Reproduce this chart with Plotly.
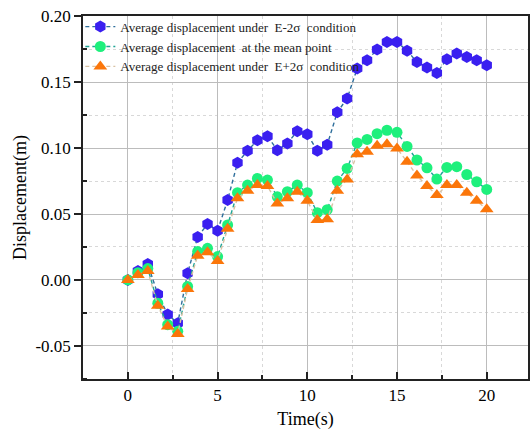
import plotly.graph_objects as go

time_s = [0.00, 0.56, 1.11, 1.67, 2.22, 2.78, 3.33, 3.89, 4.44, 5.00,
          5.56, 6.11, 6.67, 7.22, 7.78, 8.33, 8.89, 9.44, 10.00, 10.56,
          11.11, 11.67, 12.22, 12.78, 13.33, 13.89, 14.44, 15.00, 15.56, 16.11,
          16.67, 17.22, 17.78, 18.33, 18.89, 19.44, 20.00]

disp_minus = [0.000, 0.0068, 0.012, -0.0109, -0.0263, -0.0328, 0.0051, 0.0326, 0.0424, 0.0374,
              0.0606, 0.0889, 0.098, 0.106, 0.109, 0.0985, 0.1035, 0.1129, 0.1106, 0.098,
              0.1025, 0.1273, 0.1377, 0.1604, 0.1667, 0.1748, 0.1806, 0.1806, 0.1740, 0.1654,
              0.1612, 0.1571, 0.1675, 0.1718, 0.1692, 0.1667, 0.1630]

disp_mean = [0.000, 0.0055, 0.0086, -0.0177, -0.034, -0.039, -0.005, 0.0215, 0.024, 0.0177,
             0.0417, 0.0662, 0.072, 0.077, 0.0758, 0.0631, 0.067, 0.072, 0.0662, 0.051,
             0.0533, 0.075, 0.0846, 0.104, 0.1066, 0.111, 0.1136, 0.112, 0.1013, 0.091,
             0.0851, 0.0765, 0.0854, 0.0859, 0.080, 0.0745, 0.0687]

disp_plus = [0.000, 0.0038, 0.0068, -0.0197, -0.0354, -0.041, -0.0068, 0.0184, 0.021, 0.0144,
             0.0388, 0.062, 0.0677, 0.072, 0.0712, 0.058, 0.062, 0.067, 0.060, 0.0455,
             0.046, 0.0677, 0.0763, 0.0953, 0.0973, 0.1018, 0.103, 0.0998, 0.0897, 0.0792,
             0.0712, 0.0644, 0.072, 0.072, 0.0662, 0.060, 0.0536]

names = ["Average displacement under  E-2σ  condition",
         "Average displacement  at the mean point",
         "Average displacement under  E+2σ  condition"]

y_tickvals = [-0.05, 0.0, 0.05, 0.10, 0.15, 0.20]
y_ticktext = ["-0.05", "0.00", "0.05", "0.10", "0.15", "0.20"]
x_tickvals = [0, 5, 10, 15, 20]
x_ticktext = ["0", "5", "10", "15", "20"]
y_minor = [-0.075, -0.025, 0.025, 0.075, 0.125, 0.175]
x_minor = [-2.5, 2.5, 7.5, 12.5, 17.5, 22.5]

serif = "Liberation Serif, Times New Roman, serif"

fig = go.Figure()
fig.add_trace(go.Scatter(
    x=time_s, y=disp_minus, name=names[0], mode="lines+markers",
    line=dict(color="#2f6f9c", width=1.4, dash="4px,3px"),
    marker=dict(symbol="hexagon", size=12, color="#3a1ff0", line=dict(width=0))))
fig.add_trace(go.Scatter(
    x=time_s, y=disp_mean, name=names[1], mode="lines+markers",
    line=dict(color="#1fa596", width=1.4, dash="4px,3px"),
    marker=dict(symbol="circle", size=11, color="#1ef07c", line=dict(width=0))))
fig.add_trace(go.Scatter(
    x=time_s, y=disp_plus, name=names[2], mode="lines+markers",
    line=dict(color="#d9c2a4", width=1.4, dash="4px,3px"),
    marker=dict(symbol="triangle-up", size=12, color="#fb760a", line=dict(width=0))))

fig.update_layout(
    width=531, height=436,
    margin=dict(l=83, r=1, t=16, b=57),
    paper_bgcolor="white", plot_bgcolor="white",
    font=dict(family=serif, color="black", size=17),
    showlegend=True,
    legend=dict(x=-0.006, y=1.012, xanchor="left", yanchor="top",
                bgcolor="rgba(0,0,0,0)", borderwidth=0,
                font=dict(family=serif, size=13, color="#222"),
                tracegroupgap=0, itemwidth=30),
)

fig.update_xaxes(
    range=[-2.5, 22.3], tickmode="array", tickvals=x_tickvals, ticktext=x_ticktext,
    ticks="inside", ticklen=7, tickwidth=2, tickcolor="#222",
    showline=True, linecolor="#222", linewidth=1.5, mirror=True,
    showgrid=True, gridcolor="#bcbcbc", gridwidth=1, zeroline=False,
    tickfont=dict(family=serif, size=17),
    title=dict(text="Time(s)", font=dict(family=serif, size=18), standoff=8),
    minor=dict(tickmode="array", tickvals=x_minor, ticks="inside", ticklen=4,
               tickwidth=2, tickcolor="#222", showgrid=True,
               gridcolor="#d8d8d8", griddash="dot", gridwidth=1),
)
fig.update_yaxes(
    range=[-0.0752, 0.2003], tickmode="array", tickvals=y_tickvals, ticktext=y_ticktext,
    ticks="outside", ticklen=7, tickwidth=1.5, tickcolor="#222",
    showline=True, linecolor="#222", linewidth=1.5, mirror=True,
    showgrid=True, gridcolor="#bcbcbc", gridwidth=1, zeroline=False,
    tickfont=dict(family=serif, size=17),
    title=dict(text="Displacement(m)", font=dict(family=serif, size=18), standoff=4),
    minor=dict(tickmode="array", tickvals=y_minor, ticks="inside", ticklen=4,
               tickwidth=1.5, tickcolor="#222", showgrid=True,
               gridcolor="#d8d8d8", griddash="dot", gridwidth=1),
)

fig.write_html("out.html")
